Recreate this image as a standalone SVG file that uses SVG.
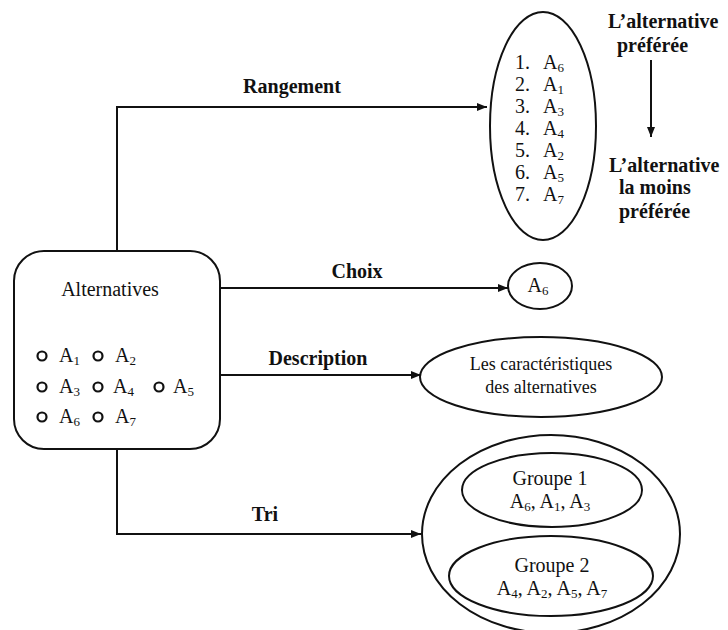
<svg xmlns="http://www.w3.org/2000/svg" width="728" height="630" viewBox="0 0 728 630">
  <defs>
    <marker id="arrow" viewBox="0 0 10 8" refX="10" refY="4" markerWidth="10" markerHeight="8" markerUnits="userSpaceOnUse" orient="auto">
      <path d="M0,0 L10,4 L0,8 Z" fill="#111"/>
    </marker>
    <style>
      .shape { fill: #fff; stroke: #111; stroke-width: 2; }
      .wire { fill: none; stroke: #111; stroke-width: 2; }
      .txt { font-family: "Liberation Serif", "Times New Roman", serif; font-size: 20px; fill: #111; }
      .lbl { font-family: "Liberation Serif", "Times New Roman", serif; font-size: 20px; font-weight: bold; fill: #111; }
      .mid { text-anchor: middle; }
      .sub { font-size: 13px; }
      .dot { fill: none; stroke: #111; stroke-width: 2.2; }
    </style>
  </defs>
  <rect width="728" height="630" fill="#fff"/>

  <!-- connectors -->
  <g id="connectors">
    <path class="wire" d="M117,251 V107 H487" marker-end="url(#arrow)"/>
    <path class="wire" d="M220,288 H508" marker-end="url(#arrow)"/>
    <path class="wire" d="M220,375 H421" marker-end="url(#arrow)"/>
    <path class="wire" d="M117,449 V534 H421" marker-end="url(#arrow)"/>
    <path class="wire" d="M651,60 V137" marker-end="url(#arrow)"/>
    <text class="lbl mid" x="292" y="93">Rangement</text>
    <text class="lbl mid" x="357" y="278">Choix</text>
    <text class="lbl mid" x="318" y="365">Description</text>
    <text class="lbl mid" x="265" y="521">Tri</text>
  </g>

  <!-- source set of alternatives -->
  <g id="alternatives">
    <rect class="shape" x="14" y="251" width="206" height="198" rx="30" ry="30"/>
    <text class="txt mid" x="110" y="296">Alternatives</text>
    <circle class="dot" cx="42" cy="356" r="4.5"/>
    <circle class="dot" cx="98" cy="356" r="4.5"/>
    <circle class="dot" cx="42" cy="387" r="4.5"/>
    <circle class="dot" cx="98" cy="387" r="4.5"/>
    <circle class="dot" cx="159" cy="387" r="4.5"/>
    <circle class="dot" cx="42" cy="417" r="4.5"/>
    <circle class="dot" cx="98" cy="417" r="4.5"/>
    <text class="txt" x="59" y="362">A<tspan class="sub" dy="3">1</tspan></text>
    <text class="txt" x="115" y="362">A<tspan class="sub" dy="3">2</tspan></text>
    <text class="txt" x="59" y="393">A<tspan class="sub" dy="3">3</tspan></text>
    <text class="txt" x="113" y="393">A<tspan class="sub" dy="3">4</tspan></text>
    <text class="txt" x="173" y="393">A<tspan class="sub" dy="3">5</tspan></text>
    <text class="txt" x="59" y="423">A<tspan class="sub" dy="3">6</tspan></text>
    <text class="txt" x="115" y="423">A<tspan class="sub" dy="3">7</tspan></text>
  </g>

  <!-- ranking result -->
  <g id="rangement">
    <ellipse class="shape" cx="543" cy="126" rx="53" ry="114"/>
    <g font-size="19">
      <text class="txt" x="515" y="69" font-size="19">1.</text>
      <text class="txt" x="543" y="69" font-size="19">A<tspan class="sub" dy="3">6</tspan></text>
      <text class="txt" x="515" y="91" font-size="19">2.</text>
      <text class="txt" x="543" y="91" font-size="19">A<tspan class="sub" dy="3">1</tspan></text>
      <text class="txt" x="515" y="113" font-size="19">3.</text>
      <text class="txt" x="543" y="113" font-size="19">A<tspan class="sub" dy="3">3</tspan></text>
      <text class="txt" x="515" y="135" font-size="19">4.</text>
      <text class="txt" x="543" y="135" font-size="19">A<tspan class="sub" dy="3">4</tspan></text>
      <text class="txt" x="515" y="157" font-size="19">5.</text>
      <text class="txt" x="543" y="157" font-size="19">A<tspan class="sub" dy="3">2</tspan></text>
      <text class="txt" x="515" y="179" font-size="19">6.</text>
      <text class="txt" x="543" y="179" font-size="19">A<tspan class="sub" dy="3">5</tspan></text>
      <text class="txt" x="515" y="201" font-size="19">7.</text>
      <text class="txt" x="543" y="201" font-size="19">A<tspan class="sub" dy="3">7</tspan></text>
    </g>
  </g>

  <!-- preference scale -->
  <g id="echelle">
    <text class="lbl" x="608" y="28">L’alternative</text>
    <text class="lbl" x="617" y="52">préférée</text>
    <text class="lbl" x="609" y="172">L’alternative</text>
    <text class="lbl" x="619" y="194">la moins</text>
    <text class="lbl" x="619" y="218">préférée</text>
  </g>

  <!-- choice result -->
  <g id="choix">
    <ellipse class="shape" cx="540" cy="286" rx="32" ry="23"/>
    <text class="txt mid" x="538" y="292">A<tspan class="sub" dy="3">6</tspan></text>
  </g>

  <!-- description result -->
  <g id="description">
    <ellipse class="shape" cx="541" cy="377" rx="121" ry="40"/>
    <text class="txt mid" font-size="18" x="541" y="370" style="font-size:18px">Les caractéristiques</text>
    <text class="txt mid" font-size="18" x="541" y="393" style="font-size:18px">des alternatives</text>
  </g>

  <!-- sorting result -->
  <g id="tri">
    <ellipse class="shape" cx="551" cy="534" rx="129" ry="99"/>
  </g>
  <g id="groupe1">
    <ellipse class="shape" cx="552" cy="490" rx="90" ry="37"/>
    <text class="txt mid" x="550" y="485">Groupe 1</text>
    <text class="txt mid" x="550" y="508">A<tspan class="sub" dy="3">6</tspan><tspan dy="-3">, A</tspan><tspan class="sub" dy="3">1</tspan><tspan dy="-3">, A</tspan><tspan class="sub" dy="3">3</tspan></text>
  </g>
  <g id="groupe2">
    <ellipse class="shape" cx="551" cy="576" rx="102" ry="40"/>
    <text class="txt mid" x="552" y="572">Groupe 2</text>
    <text class="txt mid" x="552" y="595">A<tspan class="sub" dy="3">4</tspan><tspan dy="-3">, A</tspan><tspan class="sub" dy="3">2</tspan><tspan dy="-3">, A</tspan><tspan class="sub" dy="3">5</tspan><tspan dy="-3">, A</tspan><tspan class="sub" dy="3">7</tspan></text>
  </g>
</svg>
